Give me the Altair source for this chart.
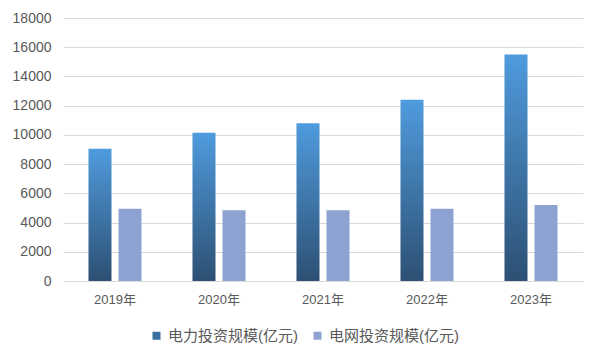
import altair as alt
import pandas as pd

years = ["2019年", "2020年", "2021年", "2022年", "2023年"]
power = [9050, 10150, 10800, 12400, 15500]
grid = [4950, 4850, 4850, 4950, 5200]
s_power = "电力投资规模(亿元)"
s_grid = "电网投资规模(亿元)"

df = pd.DataFrame({
    "year": years * 2,
    "series": [s_power] * len(years) + [s_grid] * len(years),
    "value": power + grid,
})

FONT = "Liberation Sans, Noto Sans CJK SC"
TXT = "#595959"

x_enc = alt.X("year:N", sort=years, title=None,
              scale=alt.Scale(paddingInner=0.49, paddingOuter=0.245),
              axis=alt.Axis(labelAngle=0, ticks=False, labelPadding=12,
                            domainColor="#D9D9D9", labelColor=TXT,
                            labelFontSize=13, labelFont=FONT, grid=False))
y_enc = alt.Y("value:Q", title=None,
              scale=alt.Scale(domain=[0, 18000], nice=False),
              axis=alt.Axis(values=list(range(0, 18001, 2000)), domain=False,
                            format="d",
                            ticks=False, labelPadding=12, labelColor=TXT,
                            labelFontSize=14, labelFont=FONT,
                            gridColor="#D9D9D9", gridWidth=1))
xoff = alt.XOffset("series:N", sort=[s_power, s_grid],
                   scale=alt.Scale(paddingInner=0.233, paddingOuter=0))

grad = {"gradient": "linear", "x1": 0, "y1": 0, "x2": 0, "y2": 1,
        "stops": [{"offset": 0, "color": "#4F9BDD"},
                  {"offset": 1, "color": "#2D5073"}]}

base = alt.Chart(df)
bars_power = base.transform_filter(alt.datum.series == s_power).mark_bar(
    fill=grad).encode(x=x_enc, y=y_enc, xOffset=xoff)
bars_grid = base.transform_filter(alt.datum.series == s_grid).mark_bar(
    color="#8FA3D3").encode(x=x_enc, y=y_enc, xOffset=xoff)

legend_layer = base.mark_point(shape="square", opacity=0, filled=True).encode(
    x=x_enc, y=y_enc, xOffset=xoff,
    color=alt.Color("series:N", sort=[s_power, s_grid],
                    scale=alt.Scale(domain=[s_power, s_grid],
                                    range=["#3A6FA3", "#8FA3D3"]),
                    legend=alt.Legend(title=None, orient="none",
                                      direction="horizontal",
                                      legendX=86, legendY=310,
                                      symbolType="square", symbolSize=64,
                                      symbolOpacity=1, symbolStrokeWidth=0,
                                      labelFontSize=15, labelFont=FONT,
                                      labelColor=TXT, columnPadding=12,
                                      labelOffset=4)))

chart = alt.layer(bars_power, bars_grid, legend_layer).properties(
    width=520, height=263,
    view=alt.ViewBackground(stroke="transparent", strokeWidth=0),
    autosize=alt.AutoSizeParams(type="none"),
    padding={"left": 55, "top": 10, "right": 10, "bottom": 70},
).configure_view(strokeWidth=0, stroke="transparent").configure(background="white")

chart.save("out.html", embed_options={"renderer": "svg", "actions": False})
